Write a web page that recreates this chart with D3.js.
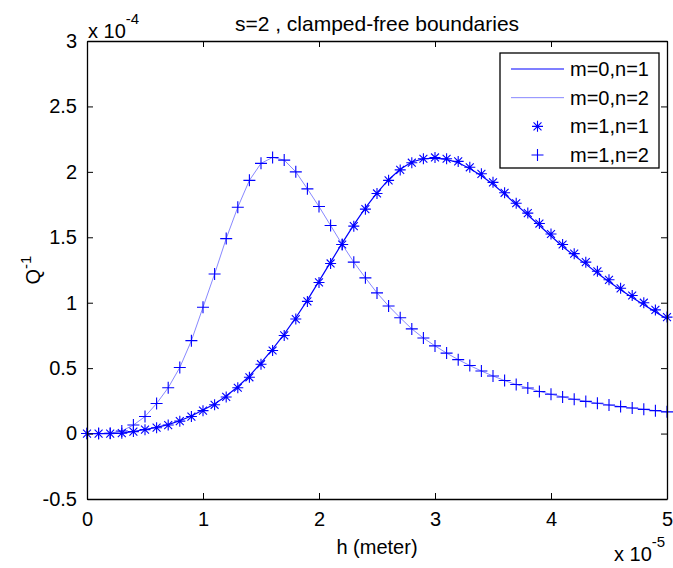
<!DOCTYPE html>
<html>
<head>
<meta charset="utf-8">
<script src="https://cdn.jsdelivr.net/npm/d3@7"></script>
<style>
  html, body { margin: 0; padding: 0; background: #fff; }
  svg { display: block; font-family: "Liberation Sans", Arial, Helvetica, sans-serif; }
</style>
</head>
<body>
<svg id="chart" width="673" height="568"></svg>
<script>
// Plate thickness h (in units of 1e-5 m)
const h = [0, 0.1, 0.2, 0.3, 0.4, 0.5, 0.6, 0.7, 0.8, 0.9,
           1.0, 1.1, 1.2, 1.3, 1.4, 1.5, 1.6, 1.7, 1.8, 1.9,
           2.0, 2.1, 2.2, 2.3, 2.4, 2.5, 2.6, 2.7, 2.8, 2.9,
           3.0, 3.1, 3.2, 3.3, 3.4, 3.5, 3.6, 3.7, 3.8, 3.9,
           4.0, 4.1, 4.2, 4.3, 4.4, 4.5, 4.6, 4.7, 4.8, 4.9, 5.0];

// Q^-1 (in units of 1e-4) for each mode
const q_m0n1 = [0, 0, 0, 0.004, 0.016, 0.031, 0.047, 0.068, 0.098, 0.134,
                0.18, 0.226, 0.287, 0.358, 0.44, 0.54, 0.645, 0.76, 0.885, 1.02,
                1.165, 1.31, 1.455, 1.595, 1.725, 1.84, 1.94, 2.02, 2.075, 2.10,
                2.105, 2.095, 2.07, 2.025, 1.97, 1.905, 1.83, 1.75, 1.67, 1.59,
                1.51, 1.43, 1.36, 1.295, 1.225, 1.16, 1.10, 1.04, 0.985, 0.93, 0.875];

const q_m0n2 = [0, 0, 0.003, 0.02, 0.065, 0.13, 0.23, 0.35, 0.505, 0.71,
                0.965, 1.22, 1.49, 1.73, 1.935, 2.065, 2.11, 2.09, 2.0, 1.87,
                1.735, 1.59, 1.445, 1.31, 1.19, 1.075, 0.975, 0.885, 0.80, 0.73,
                0.67, 0.615, 0.565, 0.52, 0.478, 0.44, 0.405, 0.375, 0.348, 0.322,
                0.30, 0.28, 0.262, 0.246, 0.232, 0.218, 0.206, 0.195, 0.185, 0.175, 0.166];

const q_m1n1 = [0, 0, 0, 0.003, 0.015, 0.03, 0.045, 0.065, 0.095, 0.13,
                0.175, 0.22, 0.28, 0.35, 0.43, 0.53, 0.635, 0.75, 0.875, 1.01,
                1.155, 1.30, 1.445, 1.585, 1.715, 1.835, 1.935, 2.015, 2.07, 2.10,
                2.11, 2.10, 2.08, 2.035, 1.985, 1.92, 1.84, 1.76, 1.685, 1.605,
                1.525, 1.445, 1.375, 1.31, 1.24, 1.175, 1.11, 1.055, 1.0, 0.945, 0.89];

const q_m1n2 = [0, 0, 0.003, 0.02, 0.065, 0.13, 0.23, 0.35, 0.505, 0.71,
                0.965, 1.22, 1.49, 1.73, 1.935, 2.065, 2.11, 2.09, 2.0, 1.87,
                1.735, 1.59, 1.445, 1.31, 1.19, 1.075, 0.975, 0.885, 0.80, 0.73,
                0.67, 0.615, 0.565, 0.52, 0.478, 0.44, 0.405, 0.375, 0.348, 0.322,
                0.30, 0.28, 0.262, 0.246, 0.232, 0.218, 0.206, 0.195, 0.185, 0.175, 0.166];

const xTicks = [0, 1, 2, 3, 4, 5];
const yTicks = [-0.5, 0, 0.5, 1, 1.5, 2, 2.5, 3];
const legendLabels = ["m=0,n=1", "m=0,n=2", "m=1,n=1", "m=1,n=2"];

const svg = d3.select("#chart");
const box = { left: 87, right: 667, top: 41, bottom: 499 };

const x = d3.scaleLinear().domain([0, 5]).range([box.left, box.right]);
const y = d3.scaleLinear().domain([-0.5, 3]).range([box.bottom, box.top]);

const FONT = 20;
const blue = "#0000ff";
const lightBlue = "#8888ff";

// Axes box with inward ticks on all four sides
const tickLen = 6;
const axB = d3.axisBottom(x).tickValues(xTicks).tickSizeInner(-tickLen).tickSizeOuter(0).tickPadding(13).tickFormat(d3.format("d"));
const axT = d3.axisTop(x).tickValues(xTicks).tickSizeInner(-tickLen).tickSizeOuter(0).tickFormat("");
const axL = d3.axisLeft(y).tickValues(yTicks).tickSizeInner(-tickLen).tickSizeOuter(0).tickPadding(10).tickFormat(d => d);
const axR = d3.axisRight(y).tickValues(yTicks).tickSizeInner(-tickLen).tickSizeOuter(0).tickFormat("");

function styleAxis(g) {
  g.selectAll("path").attr("stroke", "#000").attr("stroke-width", 1.3);
  g.selectAll("line").attr("stroke", "#000").attr("stroke-width", 1);
  g.selectAll("text").attr("fill", "#000").style("font-size", FONT + "px").style("font-family", "inherit");
}

svg.append("rect").attr("x", box.left).attr("y", box.top)
  .attr("width", box.right - box.left).attr("height", box.bottom - box.top)
  .attr("fill", "#fff");

// Data curves, clipped to the axes box
svg.append("clipPath").attr("id", "plotClip").append("rect")
  .attr("x", box.left - 6).attr("y", box.top).attr("width", box.right - box.left + 12).attr("height", box.bottom - box.top);

const plot = svg.append("g").attr("clip-path", "url(#plotClip)");

const line = d3.line().x((d, i) => x(h[i])).y(d => y(d));

plot.append("path").datum(q_m0n2).attr("d", line)
  .attr("fill", "none").attr("stroke", lightBlue).attr("stroke-width", 1);
plot.append("path").datum(q_m0n1).attr("d", line)
  .attr("fill", "none").attr("stroke", blue).attr("stroke-width", 1.2);

// Marker shapes: '*' is a plus overlaid with a cross, '+' is a plain plus
function starPath(cx, cy, r) {
  const d = r * 0.72;
  return `M${cx - r},${cy}L${cx + r},${cy}M${cx},${cy - r}L${cx},${cy + r}` +
         `M${cx - d},${cy - d}L${cx + d},${cy + d}M${cx - d},${cy + d}L${cx + d},${cy - d}`;
}
function plusPath(cx, cy, r) {
  return `M${cx - r},${cy}L${cx + r},${cy}M${cx},${cy - r}L${cx},${cy + r}`;
}

plot.append("g").selectAll("path").data(q_m1n1).join("path")
  .attr("d", (d, i) => starPath(x(h[i]), y(d), 5.5))
  .attr("fill", "none").attr("stroke", blue).attr("stroke-width", 1.1);

plot.append("g").selectAll("path").data(q_m1n2).join("path")
  .attr("d", (d, i) => plusPath(x(h[i]), y(d), 6))
  .attr("fill", "none").attr("stroke", blue).attr("stroke-width", 1.1);

// Axes
svg.append("g").attr("transform", `translate(0,${box.bottom})`).call(axB).call(styleAxis);
svg.append("g").attr("transform", `translate(0,${box.top})`).call(axT).call(styleAxis);
svg.append("g").attr("transform", `translate(${box.left},0)`).call(axL).call(styleAxis);
svg.append("g").attr("transform", `translate(${box.right},0)`).call(axR).call(styleAxis);

// Exponent multipliers
const expY = svg.append("text").attr("x", 88).attr("y", 38).style("font-size", FONT + "px").attr("fill", "#000");
expY.append("tspan").text("x 10");
expY.append("tspan").attr("dy", -14).style("font-size", "15px").text("-4");

const expX = svg.append("text").attr("x", 614).attr("y", 561).style("font-size", FONT + "px").attr("fill", "#000");
expX.append("tspan").text("x 10");
expX.append("tspan").attr("dy", -14).style("font-size", "15px").text("-5");

// Title and axis labels
svg.append("text").attr("x", (box.left + box.right) / 2).attr("y", 31)
  .attr("text-anchor", "middle").style("font-size", "21px").attr("fill", "#000")
  .text("s=2 , clamped-free boundaries");

svg.append("text").attr("x", (box.left + box.right) / 2).attr("y", 554)
  .attr("text-anchor", "middle").style("font-size", FONT + "px").attr("fill", "#000")
  .text("h (meter)");

const yl = svg.append("text")
  .attr("transform", `translate(40,${(box.top + box.bottom) / 2}) rotate(-90)`)
  .attr("text-anchor", "middle").style("font-size", FONT + "px").attr("fill", "#000");
yl.append("tspan").text("Q");
yl.append("tspan").attr("dy", -9).style("font-size", "15px").text("-1");

// Legend
const lg = { x: 500, y: 53, w: 159, h: 115 };
const legend = svg.append("g");
legend.append("rect").attr("x", lg.x).attr("y", lg.y).attr("width", lg.w).attr("height", lg.h)
  .attr("fill", "#fff").attr("stroke", "#000").attr("stroke-width", 1.3);

const rowY = d3.scalePoint().domain(legendLabels).range([lg.y + 16, lg.y + 102]);
const sx0 = 511, sx1 = 564, sxm = (sx0 + sx1) / 2;

legend.append("line").attr("x1", sx0).attr("x2", sx1)
  .attr("y1", rowY(legendLabels[0])).attr("y2", rowY(legendLabels[0]))
  .attr("stroke", blue).attr("stroke-width", 1.2);
legend.append("line").attr("x1", sx0).attr("x2", sx1)
  .attr("y1", rowY(legendLabels[1])).attr("y2", rowY(legendLabels[1]))
  .attr("stroke", lightBlue).attr("stroke-width", 1);
legend.append("path").attr("d", starPath(sxm, rowY(legendLabels[2]), 5.5))
  .attr("fill", "none").attr("stroke", blue).attr("stroke-width", 1.1);
legend.append("path").attr("d", plusPath(sxm, rowY(legendLabels[3]), 6))
  .attr("fill", "none").attr("stroke", blue).attr("stroke-width", 1.1);

legend.selectAll("text.lbl").data(legendLabels).join("text").attr("class", "lbl")
  .attr("x", 570).attr("y", d => rowY(d) + 7)
  .style("font-size", FONT + "px").attr("fill", "#000")
  .text(d => d);
</script>
</body>
</html>
